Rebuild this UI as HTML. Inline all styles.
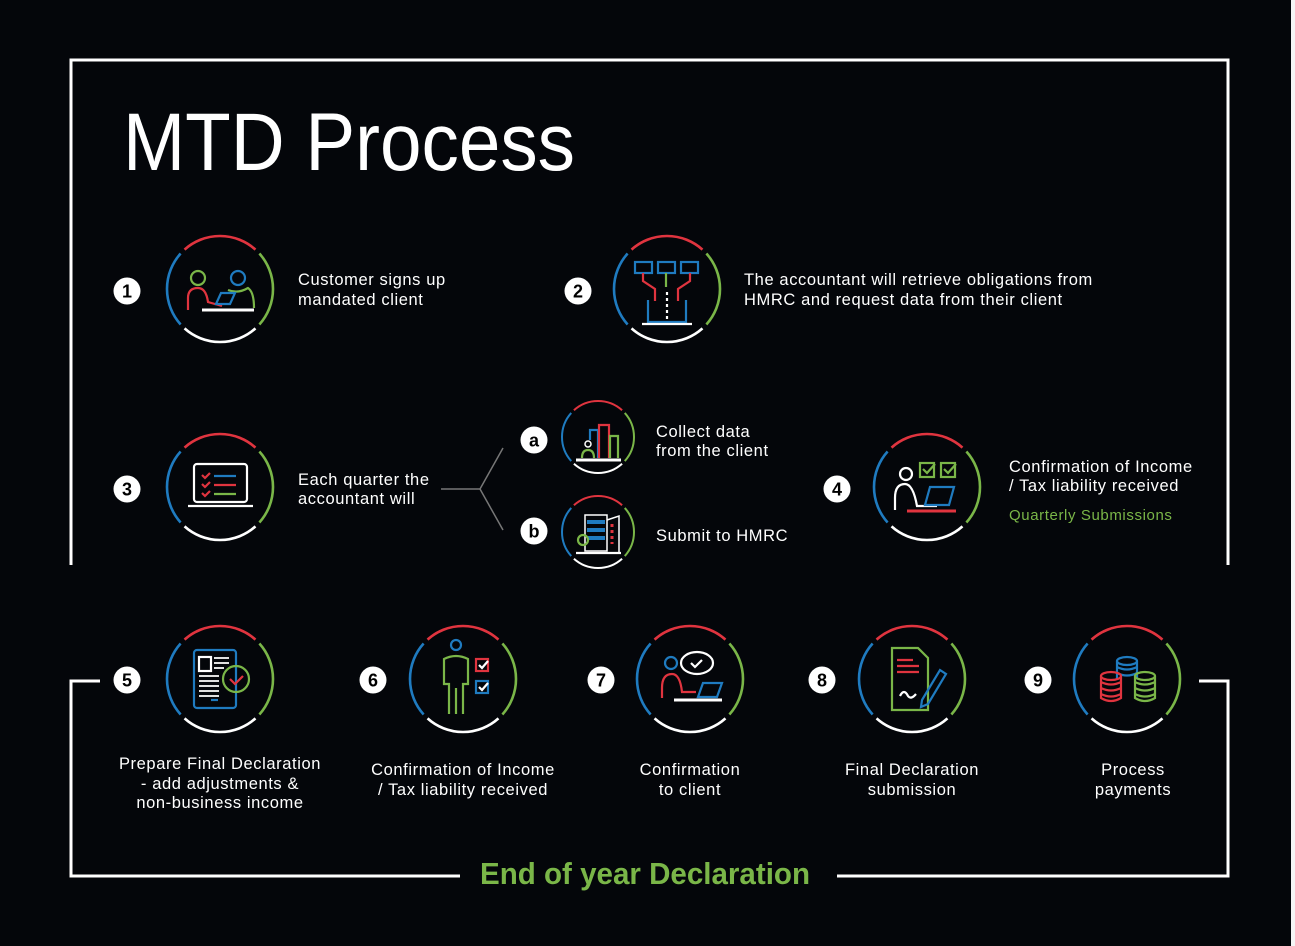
<!DOCTYPE html>
<html><head><meta charset="utf-8"><style>
html,body{margin:0;padding:0;background:#04060a;}
svg{display:block}
text{font-family:"Liberation Sans",sans-serif;fill:#fff;}
.lbl text{letter-spacing:0.6px}
</style></head><body>
<svg id="s" width="1295" height="946" viewBox="0 0 1295 946" xmlns="http://www.w3.org/2000/svg">
<rect width="1295" height="946" fill="#04060a"/>
<rect x="1291" y="0" width="4" height="946" fill="#f5f5f5"/>
<g stroke="#fff" stroke-width="3" fill="none">
<polyline points="71,565 71,60 1228,60 1228,565"/>
<polyline points="100,681 71,681 71,876 460,876"/>
<polyline points="837,876 1228,876 1228,681 1199,681"/>
</g>
<text x="123" y="170" font-size="82" textLength="452" lengthAdjust="spacingAndGlyphs">MTD Process</text>
<text x="480" y="884" font-size="31" font-weight="bold" style="fill:#7ab648" textLength="330" lengthAdjust="spacingAndGlyphs">End of year Declaration</text>
<g stroke="#777" stroke-width="1.5" fill="none"><polyline points="441,489 480,489 503,448"/><line x1="480" y1="489" x2="503" y2="530"/></g>
<g id="circ"></g>
<g font-size="16.5" class="lbl">
<text x="298" y="285">Customer signs up</text><text x="298" y="305">mandated client</text>
<text x="744" y="285">The accountant will retrieve obligations from</text><text x="744" y="305">HMRC and request data from their client</text>
<text x="298" y="485">Each quarter the</text><text x="298" y="504">accountant will</text>
<text x="656" y="437">Collect data</text><text x="656" y="456">from the client</text>
<text x="656" y="541">Submit to HMRC</text>
<text x="1009" y="472">Confirmation of Income</text><text x="1009" y="491">/ Tax liability received</text>
<text x="1009" y="520" font-size="15" style="fill:#7ab648">Quarterly Submissions</text>
<g text-anchor="middle">
<text x="220" y="769">Prepare Final Declaration</text><text x="220" y="789">- add adjustments &amp;</text><text x="220" y="808">non-business income</text>
<text x="463" y="775">Confirmation of Income</text><text x="463" y="795">/ Tax liability received</text>
<text x="690" y="775">Confirmation</text><text x="690" y="795">to client</text>
<text x="912" y="775">Final Declaration</text><text x="912" y="795">submission</text>
<text x="1133" y="775">Process</text><text x="1133" y="795">payments</text>
</g></g>
<g id="badges"></g>
<g fill="none" stroke-width="2.2">
<circle cx="198" cy="278" r="7" stroke="#7ab648"/><path d="M188 310 v-12 q0-10 10-10 q8 0 10 14 l14 4" stroke="#e0343f"/>
<circle cx="238" cy="278" r="7" stroke="#1f7bc0"/><path d="M228 290 q10 4 20-2 q6 4 6 20" stroke="#7ab648"/>
<path d="M216 304 l5-11 h14 l-5 11z" stroke="#1f7bc0"/><line x1="202" y1="310" x2="254" y2="310" stroke="#fff" stroke-width="3"/>
<g stroke="#1f7bc0"><rect x="635" y="262" width="17" height="11"/><rect x="658" y="262" width="17" height="11"/><rect x="681" y="262" width="17" height="11"/><path d="M648 300 v22 h38 v-22"/></g>
<path d="M643 273 v8 l12 8 v12 M690 273 v8 l-12 8 v12" stroke="#e0343f"/><path d="M666 273 v14" stroke="#7ab648"/><path d="M667 292 v30" stroke="#fff" stroke-dasharray="3 3"/>
<line x1="642" y1="324" x2="692" y2="324" stroke="#fff"/>
<rect x="194" y="464" width="53" height="38" rx="3" stroke="#fff"/><line x1="188" y1="506" x2="253" y2="506" stroke="#fff"/>
<path d="M202 475 l3 3 5-5 M202 484 l3 3 5-5 M202 493 l3 3 5-5" stroke="#e0343f"/>
<path d="M214 476 h22" stroke="#1f7bc0"/><path d="M214 485 h22" stroke="#e0343f"/><path d="M214 494 h22" stroke="#7ab648"/>
<path d="M590 440 v-10 h8 v28" stroke="#1f7bc0"/><path d="M599 458 v-33 h10 v33" stroke="#e0343f"/><path d="M610 458 v-22 h8 v22" stroke="#7ab648"/>
<circle cx="588" cy="444" r="3" stroke="#fff" stroke-width="1.5"/><path d="M582 458 q0-8 6-8 q6 0 6 8" stroke="#7ab648"/><line x1="576" y1="460" x2="621" y2="460" stroke="#fff" stroke-width="3"/>
<rect x="585" y="515" width="22" height="36" stroke="#fff" stroke-width="1.5"/><path d="M587 522 h18 M587 530 h18 M587 538 h18" stroke="#1f7bc0" stroke-width="4"/>
<path d="M607 520 l12-4 v36" stroke="#fff" stroke-width="1.5"/><path d="M612 524 v20" stroke="#e0343f" stroke-width="3" stroke-dasharray="3 3"/>
<circle cx="583" cy="540" r="5" stroke="#7ab648"/><line x1="576" y1="553" x2="621" y2="553" stroke="#fff"/>
<rect x="920" y="463" width="14" height="14" stroke="#7ab648"/><rect x="941" y="463" width="14" height="14" stroke="#7ab648"/><path d="M923 469 l4 4 8-9 M944 469 l4 4 8-9" stroke="#7ab648"/>
<circle cx="906" cy="474" r="6" stroke="#fff"/><path d="M895 510 v-12 q0-14 10-14 q8 0 12 22 h20" stroke="#fff"/>
<path d="M925 505 l5-18 h24 l-5 18z" stroke="#1f7bc0"/><line x1="907" y1="511" x2="956" y2="511" stroke="#e0343f" stroke-width="3"/>
<rect x="194" y="650" width="42" height="58" rx="3" stroke="#1f7bc0"/><rect x="199" y="657" width="12" height="14" stroke="#fff"/>
<path d="M214 658 h15 M214 663 h15 M214 668 h10 M199 676 h20 M199 681 h20 M199 686 h20 M199 691 h20 M199 696 h20" stroke="#fff" stroke-width="1.8"/>
<circle cx="236" cy="679" r="13" stroke="#7ab648"/><path d="M230 679 l5 5 8-8" stroke="#e0343f"/><line x1="211" y1="700" x2="218" y2="700" stroke="#1f7bc0"/>
<circle cx="456" cy="645" r="5" stroke="#1f7bc0"/><path d="M449 714 v-30 h-5 v-25 q12-6 24 0 v25 h-5 v30 M456 688 v26" stroke="#7ab648"/>
<rect x="476" y="659" width="12" height="12" stroke="#e0343f"/><rect x="476" y="681" width="12" height="12" stroke="#1f7bc0"/><path d="M479 665 l3 3 6-7 M479 687 l3 3 6-7" stroke="#fff"/>
<ellipse cx="697" cy="663" rx="16" ry="11" stroke="#fff"/><path d="M691 663 l4 4 7-7" stroke="#fff"/>
<circle cx="671" cy="663" r="6" stroke="#1f7bc0"/><path d="M662 698 v-10 q0-14 10-14 q8 0 10 18 h14" stroke="#e0343f"/>
<path d="M698 697 l5-14 h19 l-5 14z" stroke="#1f7bc0"/><line x1="674" y1="700" x2="722" y2="700" stroke="#fff" stroke-width="3"/>
<path d="M892 648 h26 l10 10 v52 h-36z" stroke="#7ab648"/><path d="M897 660 h16 M897 666 h22 M897 672 h22" stroke="#e0343f"/>
<path d="M900 696 q4-8 8 0 q3 4 8-2" stroke="#fff"/><path d="M922 700 l18-30 6 4 -18 30 -7 3z" stroke="#1f7bc0"/>
<g stroke="#1f7bc0"><ellipse cx="1127" cy="661" rx="10" ry="4"/><path d="M1117 661 v18 M1137 661 v18 M1117 667 q10 5 20 0 M1117 673 q10 5 20 0"/></g>
<g stroke="#e0343f"><ellipse cx="1111" cy="676" rx="10" ry="4"/><path d="M1101 676 v22 q10 6 20 0 v-22 M1101 682 q10 5 20 0 M1101 688 q10 5 20 0 M1101 694 q10 5 20 0"/></g>
<g stroke="#7ab648"><ellipse cx="1145" cy="676" rx="10" ry="4"/><path d="M1135 676 v22 q10 6 20 0 v-22 M1135 682 q10 5 20 0 M1135 688 q10 5 20 0 M1135 694 q10 5 20 0"/></g>
</g>
</svg>
<script>
var NS="http://www.w3.org/2000/svg";
function arc(cx,cy,r,a1,a2,c,w){var t=Math.PI/180,x1=cx+r*Math.cos(a1*t),y1=cy+r*Math.sin(a1*t),x2=cx+r*Math.cos(a2*t),y2=cy+r*Math.sin(a2*t);var p=document.createElementNS(NS,"path");p.setAttribute("d","M"+x1+" "+y1+" A"+r+" "+r+" 0 0 1 "+x2+" "+y2);p.setAttribute("stroke",c);p.setAttribute("stroke-width",w);p.setAttribute("fill","none");document.getElementById("circ").appendChild(p);}
function C(cx,cy,r){var w=r>40?2.6:2;arc(cx,cy,r,-42,42,"#7ab648",w);arc(cx,cy,r,48,132,"#ffffff",w);arc(cx,cy,r,138,222,"#1f7bc0",w);arc(cx,cy,r,228,312,"#e0343f",w);}
[[220,289,53],[667,289,53],[220,487,53],[927,487,53],[220,679,53],[463,679,53],[690,679,53],[912,679,53],[1127,679,53],[598,437,36],[598,532,36]].forEach(function(a){C(a[0],a[1],a[2]);});
var B=[[127,291,"1"],[578,291,"2"],[127,489,"3"],[534,440,"a"],[534,531,"b"],[837,489,"4"],[127,680,"5"],[373,680,"6"],[601,680,"7"],[822,680,"8"],[1038,680,"9"]];
var g=document.getElementById("badges");
B.forEach(function(b){var c=document.createElementNS(NS,"circle");c.setAttribute("cx",b[0]);c.setAttribute("cy",b[1]);c.setAttribute("r",13.5);c.setAttribute("fill","#fff");g.appendChild(c);var t=document.createElementNS(NS,"text");t.setAttribute("x",b[0]);t.setAttribute("y",b[1]+6.5);t.setAttribute("text-anchor","middle");t.setAttribute("font-size","18");t.setAttribute("font-weight","bold");t.setAttribute("style","fill:#000");t.textContent=b[2];g.appendChild(t);});
</script>
</body></html>
